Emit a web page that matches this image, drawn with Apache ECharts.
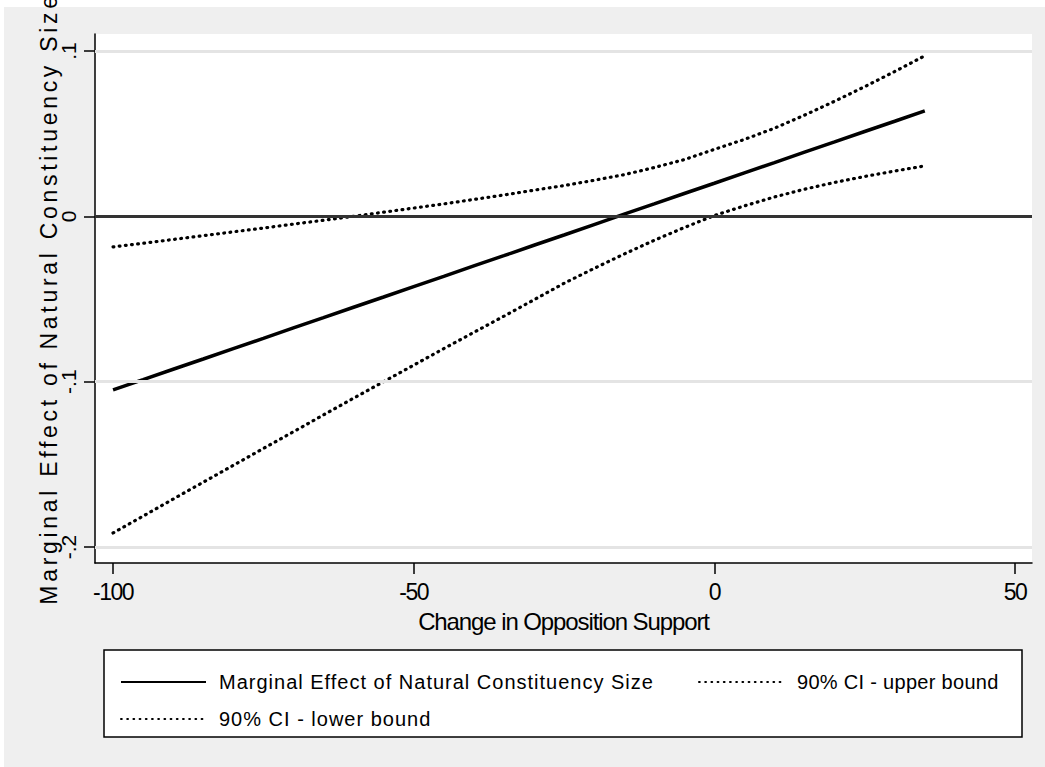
<!DOCTYPE html>
<html>
<head>
<meta charset="utf-8">
<script src="https://cdn.jsdelivr.net/npm/echarts@6/dist/echarts.min.js"></script>
<style>
  html, body { margin: 0; padding: 0; background: #fff; }
  #chart { width: 1045px; height: 767px; }
</style>
</head>
<body>
<div id="chart"></div>
<script>
// change in opposition support
const xValues = [-100, -95, -90, -85, -80, -75, -70, -65, -60, -55, -50, -45, -40, -35,
    -30, -25, -20, -15, -10, -5, 0, 5, 10, 15, 20, 25, 30, 35];
const estValues = [-0.105, -0.0988, -0.0925, -0.0863, -0.08, -0.0738, -0.0675, -0.0613, -0.055,
    -0.0488, -0.0425, -0.0363, -0.03, -0.0238, -0.0175, -0.0113, -0.005, 0.0013, 0.0075, 0.0138,
    0.02, 0.0263, 0.0325, 0.0388, 0.045, 0.0513, 0.0575, 0.0638];
const upperValues = [-0.0185, -0.0163, -0.014, -0.0117, -0.0094, -0.0071, -0.0047, -0.0024, 0.0,
    0.0025, 0.005, 0.0075, 0.0102, 0.0129, 0.0158, 0.0186, 0.0218, 0.0252, 0.0295, 0.0343,
    0.0405, 0.0465, 0.0533, 0.0612, 0.0696, 0.0784, 0.0876, 0.0971];
const lowerValues = [-0.1915, -0.1813, -0.171, -0.1608, -0.1506, -0.1404, -0.1303, -0.1201, -0.11,
    -0.1, -0.09, -0.08, -0.0702, -0.0604, -0.0505, -0.0405, -0.0315, -0.0228, -0.0145, -0.0068,
    0.0005, 0.0063, 0.0117, 0.0164, 0.0205, 0.0241, 0.0274, 0.0305];

const xTicks = [-100, -50, 0, 50];
const yTicks = [-0.2, -0.1, 0, 0.1];
const yTickLabels = ['-.2', '-.1', '0', '.1'];

const names = ['Marginal Effect of Natural Constituency Size', '90% CI - upper bound', '90% CI - lower bound'];
const font = 'Liberation Sans';

function pairs(ys) {
    return xValues.map((x, i) => [x, ys[i]]);
}

const dotted = { color: '#000', width: 3.2, type: [0.8, 5.4], cap: 'round' };
const legendText = { fontSize: 20, fontFamily: font, color: '#000', lineHeight: 22, padding: [0, 0, 0, 8] };
const legendBase = {
    itemWidth: 85, itemHeight: 14, itemGap: 47,
    itemStyle: { color: 'transparent', borderWidth: 0 },
    lineStyle: { color: '#000' },
    textStyle: legendText
};

const option = {
    animation: false,
    backgroundColor: '#fff',
    textStyle: { fontFamily: font, color: '#000' },
    graphic: [
        { type: 'rect', z: -10, shape: { x: 4, y: 7, width: 1041, height: 760 }, style: { fill: '#efefef' } },
        { type: 'rect', z: -5, shape: { x: 104, y: 650, width: 918, height: 87 },
          style: { fill: '#fff', stroke: '#000', lineWidth: 1.5 } }
    ],
    grid: {
        left: 95, right: 13, top: 34, bottom: 204,
        show: true, backgroundColor: '#fff', borderWidth: 0
    },
    legend: [Object.assign({}, legendBase, {
        data: [{ name: names[0], textStyle: { width: 432 } }, names[1]],
        left: 115, top: 666
    }), Object.assign({}, legendBase, {
        data: [names[2]],
        left: 115, top: 703
    })],
    xAxis: {
        type: 'value',
        min: -103, max: 52.83,
        name: 'Change in Opposition Support',
        nameLocation: 'middle',
        nameGap: 46,
        nameMoveOverlap: false,
        nameTextStyle: { fontSize: 24, color: '#000', fontFamily: font },
        axisLine: { show: true, onZero: false, lineStyle: { color: '#000', width: 1.5 } },
        axisTick: { show: true, length: 11, customValues: xTicks, lineStyle: { color: '#000', width: 1.5 } },
        axisLabel: { customValues: xTicks, fontSize: 23, color: '#000', margin: 17, fontFamily: font },
        splitLine: { show: false }
    },
    yAxis: {
        type: 'value',
        min: -0.20967, max: 0.11027,
        name: names[0],
        nameLocation: 'middle',
        nameGap: 35,
        nameMoveOverlap: false,
        nameTextStyle: { fontSize: 23, color: '#000', fontFamily: font },
        axisLine: { show: true, onZero: false, lineStyle: { color: '#000', width: 1.5 } },
        axisTick: { show: true, length: 11, customValues: yTicks, lineStyle: { color: '#000', width: 1.5 } },
        axisLabel: {
            customValues: yTicks, rotate: 90, fontSize: 21, color: '#000', margin: 16, fontFamily: font,
            formatter: function (v) {
                const i = yTicks.findIndex(t => Math.abs(t - v) < 1e-9);
                return i >= 0 ? yTickLabels[i] : '';
            }
        },
        splitLine: { show: false }
    },
    series: [{
        // grid lines and the zero line
        type: 'line',
        data: [],
        silent: true,
        z: 1,
        markLine: {
            silent: true,
            symbol: 'none',
            animation: false,
            label: { show: false },
            lineStyle: { type: 'solid', color: '#e4e4e4', width: 3 },
            data: [
                { yAxis: -0.2 },
                { yAxis: -0.1 },
                { yAxis: 0.1 },
                { yAxis: 0, lineStyle: { type: 'solid', color: '#333', width: 3 } }
            ]
        }
    }, {
        name: names[0],
        type: 'line',
        data: pairs(estValues),
        symbol: 'none',
        z: 3,
        itemStyle: { color: '#000' },
        lineStyle: { color: '#000', width: 3.5 }
    }, {
        name: names[1],
        type: 'line',
        data: pairs(upperValues),
        symbol: 'none',
        z: 3,
        itemStyle: { color: '#000' },
        lineStyle: dotted
    }, {
        name: names[2],
        type: 'line',
        data: pairs(lowerValues),
        symbol: 'none',
        z: 3,
        itemStyle: { color: '#000' },
        lineStyle: dotted
    }]
};

const chart = echarts.init(document.getElementById('chart'), null, { renderer: 'svg' });
chart.setOption(option);

// stata spaces its letters differently; nudge the svg text to match
function spaceText(size, px) {
    document.querySelectorAll('#chart text').forEach(t => {
        if (getComputedStyle(t).fontSize === size + 'px') t.style.letterSpacing = px + 'px';
    });
}
spaceText(23, -1.5);
spaceText(20, 1.0);
spaceText(24, -1.1);
document.querySelectorAll('#chart text').forEach(t => {
    if (t.textContent === names[0] && getComputedStyle(t).fontSize === '23px') t.style.letterSpacing = '3.7px';
    if (t.textContent === names[1]) t.style.letterSpacing = '0.3px';
});
</script>
</body>
</html>
